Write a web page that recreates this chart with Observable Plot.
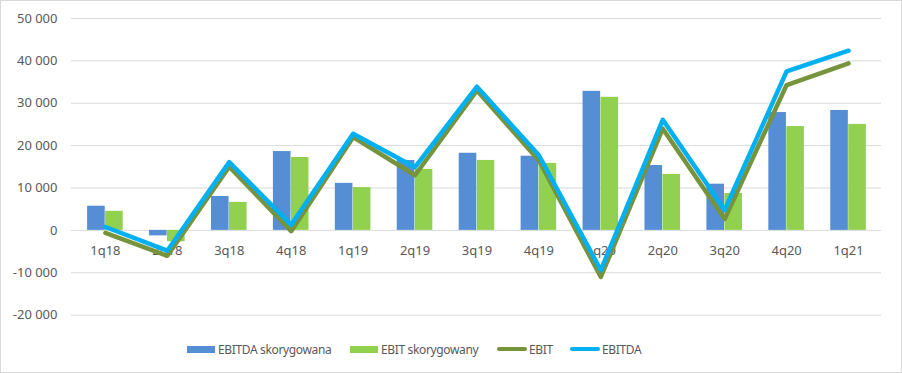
<!DOCTYPE html>
<html><head><meta charset="utf-8">
<script src="https://cdn.jsdelivr.net/npm/d3@7"></script>
<script src="https://cdn.jsdelivr.net/npm/@observablehq/plot@0.6"></script>
<style>
html,body{margin:0;padding:0;background:#fff;}
#wrap{position:relative;width:902px;height:373px;box-sizing:border-box;border:1px solid #d9d9d9;overflow:hidden;font-family:"Noto Sans",sans-serif;}
#chart{position:absolute;left:-1px;top:-1px;}
#legend{position:absolute;left:0;top:338px;width:900px;height:20px;font-size:12px;letter-spacing:-0.35px;color:#595959;white-space:nowrap;}
.item{position:absolute;top:0;display:flex;align-items:center;height:20px;}
.sw{width:28px;height:7px;margin-right:3px;}
.ln{width:30px;height:4px;border-radius:2px;margin-right:2px;}
</style></head>
<body><div id="wrap"><div id="chart"></div><div id="legend"></div></div>
<script>
const categories = ["1q18","2q18","3q18","4q18","1q19","2q19","3q19","4q19","1q20","2q20","3q20","4q20","1q21"];
const ebitdaAdj = [5700,-1300,8000,18600,11100,16500,18200,17500,32800,15300,10900,27800,28300];
const ebitAdj   = [4500,-2700,6600,17200,10100,14400,16500,15800,31400,13200,8700,24500,25000];
const ebit      = [-600,-6000,15000,-200,22000,13000,33000,16500,-11000,24000,2700,34300,39400];
const ebitda    = [800,-4800,16100,1300,22800,14900,33900,17700,-9400,26100,4800,37500,42400];
const yTicks = [-20000,-10000,0,10000,20000,30000,40000,50000];
const seriesNames = ["EBITDA skorygowana","EBIT skorygowany","EBIT","EBITDA"];
const colors = ["#558ED5","#92D050","#77933C","#00B0F0"];

const rows = categories.map((c,i)=>({c, a:ebitdaAdj[i], b:ebitAdj[i], e:ebit[i], d:ebitda[i]}));
const loc = d3.formatLocale({decimal:",", thousands:" ", grouping:[3], currency:["",""], minus:"-"});
const fmt = loc.format(",");

const W = 902, band = (W-71-20)/13;
const plot = Plot.plot({
  width: W, height: 325,
  marginLeft: 71, marginRight: 20, marginTop: 18, marginBottom: 10,
  style: {fontFamily: '"Noto Sans", sans-serif', fontSize: "13px", color: "#595959", background: "transparent"},
  x: {domain: categories, padding: 0, axis: null},
  y: {domain: [-20000, 50000], ticks: yTicks, tickFormat: fmt, tickSize: 0, tickPadding: 14, label: null},
  marks: [
    Plot.gridY(yTicks, {stroke: "#d9d9d9", strokeOpacity: 1, strokeWidth: 1}),
    Plot.axisY(yTicks, {tickSize: 0, tickPadding: 14, tickFormat: fmt, fontSize: 13, fill: "#595959", label: null}),
    Plot.barY(rows, {x: "c", y: "a", fill: colors[0], insetLeft: band/2-18, insetRight: band/2}),
    Plot.barY(rows, {x: "c", y: "b", fill: colors[1], insetLeft: band/2, insetRight: band/2-18}),
    Plot.text(rows, {x: "c", y: () => 0, text: "c", dy: 20, fill: "#595959", fontSize: 13, textAnchor: "middle"}),
    Plot.line(rows, {x: "c", y: "e", stroke: colors[2], strokeWidth: 4.5, strokeLinejoin: "round", strokeLinecap: "round"}),
    Plot.line(rows, {x: "c", y: "d", stroke: colors[3], strokeWidth: 4.5, strokeLinejoin: "round", strokeLinecap: "round"})
  ]
});
document.getElementById("chart").appendChild(plot);

const lg = document.getElementById("legend");
const lefts = [186, 349, 496, 569];
seriesNames.forEach((n,i)=>{
  const it = document.createElement("div"); it.className="item"; it.style.left = lefts[i] + "px";
  const s = document.createElement("span"); s.className = i<2 ? "sw" : "ln"; s.style.background = colors[i];
  const t = document.createElement("span"); t.textContent = n;
  it.appendChild(s); it.appendChild(t); lg.appendChild(it);
});
</script></body></html>
